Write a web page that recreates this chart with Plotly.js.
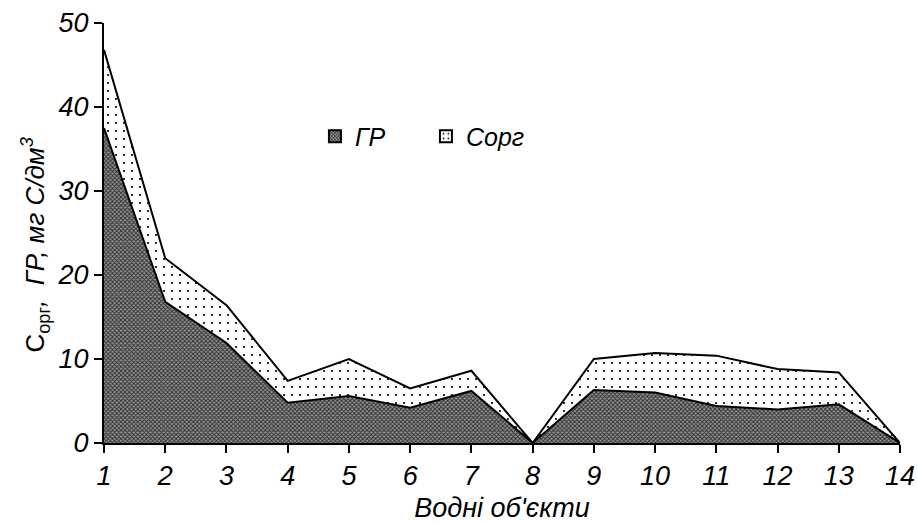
<!DOCTYPE html>
<html>
<head>
<meta charset="utf-8">
<script src="https://cdn.plot.ly/plotly-3.0.1.min.js"></script>
<style>html,body{margin:0;padding:0;background:#fff;}#chart{width:917px;height:523px;}</style>
</head>
<body>
<div id="chart"></div>
<script>
const objects = [1,2,3,4,5,6,7,8,9,10,11,12,13,14];
const grValues = [37.5,16.8,11.9,4.8,5.6,4.2,6.2,0,6.3,6.0,4.4,4.0,4.6,0];
const corgValues = [46.8,22.0,16.4,7.4,10.0,6.5,8.6,0,10.0,10.7,10.4,8.8,8.4,0];
const xTickLabels = objects.map(String);
const yTickValues = [0,10,20,30,40,50];
const seriesNames = ['ГР', 'Сорг'];
const yTitle = '<span style="font-style:normal">C<sub>орг</sub></span>,  ГР, мг С/дм<sup>3</sup>';

const fontFam = 'Arial, "Liberation Sans", sans-serif';
const grPattern = {shape: 'x', size: 3, solidity: 0.5, fgcolor: '#2a2a2a', bgcolor: '#959595'};
const corgPattern = {shape: '.', size: 8, solidity: 0.06, fgcolor: '#000', bgcolor: '#fff'};

const traces = [
  {
    x: objects, y: grValues, name: seriesNames[0], type: 'scatter', mode: 'lines',
    line: {color: '#000', width: 2}, showlegend: false,
    fill: 'tozeroy', fillcolor: '#ffffff', fillpattern: grPattern
  },
  {
    x: objects, y: corgValues, name: seriesNames[1], type: 'scatter', mode: 'lines',
    line: {color: '#000', width: 2}, showlegend: false,
    fill: 'tonexty', fillcolor: '#ffffff', fillpattern: corgPattern
  },
  // legend-only entries (square swatches)
  {
    x: [null], y: [null], name: seriesNames[0], type: 'bar',
    marker: {color: '#959595', pattern: {shape: 'x', size: 3, solidity: 0.5, fgcolor: '#2a2a2a', bgcolor: '#959595'}, line: {color: '#000', width: 2}}
  },
  {
    x: [null], y: [null], name: seriesNames[1], type: 'bar',
    marker: {color: '#fff', pattern: {shape: '.', size: 6, solidity: 0.1, fgcolor: '#000', bgcolor: '#fff'}, line: {color: '#000', width: 2}}
  }
];

const layout = {
  width: 917, height: 523,
  margin: {l: 104, r: 17, t: 23, b: 80},
  paper_bgcolor: '#fff', plot_bgcolor: '#fff',
  showlegend: true,
  legend: {
    orientation: 'h', x: 0.265, y: 0.73, xanchor: 'left', yanchor: 'middle',
    traceorder: 'normal', entrywidth: 66, entrywidthmode: 'pixels',
    font: {family: fontFam, size: 25, style: 'italic', color: '#000'},
    bgcolor: 'rgba(0,0,0,0)', itemwidth: 30
  },
  xaxis: {
    range: [1, 14], tickvals: objects, ticktext: xTickLabels,
    showgrid: false, zeroline: false, showline: true, linecolor: '#000', linewidth: 2,
    ticks: 'outside', ticklen: 8, tickwidth: 2, tickcolor: '#000',
    tickfont: {family: fontFam, size: 27, style: 'italic', color: '#000'},
    title: {text: "Водні об'єкти", font: {family: fontFam, size: 27, style: 'italic', color: '#000'}, standoff: 10}
  },
  yaxis: {
    range: [0, 50], tickvals: yTickValues,
    showgrid: false, zeroline: false, showline: true, linecolor: '#000', linewidth: 2,
    ticks: 'outside', ticklen: 8, tickwidth: 2, tickcolor: '#000',
    tickfont: {family: fontFam, size: 27, style: 'italic', color: '#000'}
  },
  annotations: [{
    text: yTitle, textangle: -90, showarrow: false,
    xref: 'paper', yref: 'paper', x: 0, y: 0.47, xanchor: 'center', yanchor: 'middle', xshift: -69,
    font: {family: fontFam, size: 26, style: 'italic', color: '#000'}
  }]
};

Plotly.newPlot('chart', traces, layout, {displayModeBar: false, staticPlot: true});
</script>
</body>
</html>
